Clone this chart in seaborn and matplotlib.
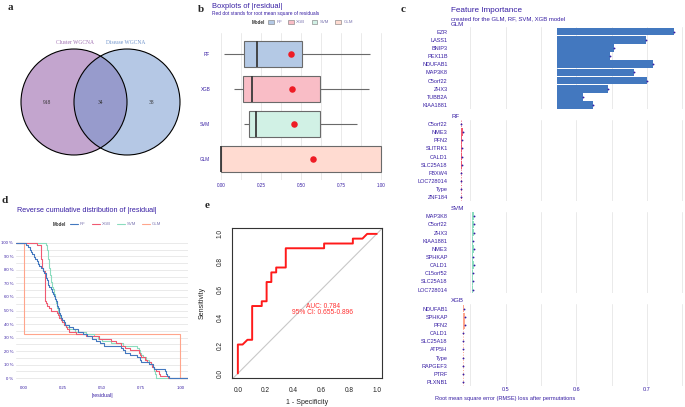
import numpy as np
import pandas as pd
import matplotlib
matplotlib.use("Agg")
import matplotlib.pyplot as plt
from matplotlib.patches import Circle, Patch
from matplotlib.lines import Line2D
from matplotlib.ticker import FixedLocator, FuncFormatter
import seaborn as sns

sns.set_style("white")
plt.rcParams['font.family'] = ['Liberation Sans', 'DejaVu Sans']

W, H = 685, 407
INK = "#371ea3"
GRID = "#e6e6e6"
SERIF = ['Liberation Serif', 'DejaVu Serif']

# ------------------------------------------------------------
# data
# ------------------------------------------------------------
# a) Venn of the two WGCNA gene sets
venn_labels = ["Cluster WGCNA", "Disease WGCNA"]
venn_counts = [918, 34, 38]          # only cluster, both, only disease

# b / d) |residual| per model, n = 58 (read off the reverse ECDF)
models = ["RF", "XGB", "SVM", "GLM"]
res_rf = [0.016, 0.026, 0.037, 0.047, 0.055, 0.064, 0.073, 0.082, 0.090, 0.099,
          0.108, 0.120, 0.131, 0.140, 0.144, 0.148, 0.153, 0.157, 0.163, 0.172,
          0.180, 0.189, 0.195, 0.200, 0.205, 0.210, 0.215, 0.218, 0.222, 0.227,
          0.233, 0.239, 0.246, 0.255, 0.265, 0.288, 0.313, 0.347, 0.380, 0.407,
          0.433, 0.460, 0.486, 0.512, 0.624, 0.635, 0.646, 0.680, 0.721, 0.740,
          0.749, 0.800, 0.826, 0.835, 0.905, 0.910, 0.918, 0.929]
res_xgb = [0.083, 0.107, 0.108, 0.109, 0.110, 0.112, 0.113, 0.114, 0.115, 0.115,
           0.116, 0.123, 0.134, 0.134, 0.135, 0.135, 0.135, 0.136, 0.136, 0.136,
           0.137, 0.137, 0.137, 0.138, 0.138, 0.140, 0.151, 0.162, 0.176, 0.214,
           0.221, 0.228, 0.235, 0.246, 0.257, 0.268, 0.278, 0.291, 0.333, 0.396,
           0.481, 0.558, 0.592, 0.624, 0.649, 0.678, 0.735, 0.742, 0.750, 0.772,
           0.789, 0.812, 0.822, 0.834, 0.848, 0.862, 0.872, 0.922]
res_svm = [0.144, 0.147, 0.150, 0.152, 0.154, 0.156, 0.157, 0.159, 0.160, 0.162,
           0.163, 0.165, 0.168, 0.170, 0.172, 0.175, 0.177, 0.179, 0.182, 0.186,
           0.190, 0.194, 0.198, 0.201, 0.204, 0.207, 0.210, 0.213, 0.217, 0.221,
           0.225, 0.230, 0.236, 0.243, 0.254, 0.269, 0.291, 0.326, 0.400, 0.452,
           0.477, 0.498, 0.560, 0.635, 0.721, 0.735, 0.742, 0.750, 0.763, 0.781,
           0.798, 0.812, 0.822, 0.830, 0.834, 0.839, 0.843, 0.848]
res_glm = [0.0] * 39 + [1.0] * 19    # GLM residuals are either 0 or 1

model_colors = {"RF": "#4378bf", "XGB": "#f05a71", "SVM": "#8bdcbe", "GLM": "#ffa58c"}

# c) permutation feature importance (RMSE loss)
fi_models = ["GLM", "RF", "SVM", "XGB"]
fi_full = [0.572, 0.437, 0.453, 0.440]
glm_vars = ["EZR", "LASS1", "BNIP3", "PEX11B", "NDUFAB1", "MAP3K8", "C5orf22", "ZHX3", "TUBB2A", "KIAA1881"]
glm_loss = [0.738, 0.698, 0.653, 0.648, 0.708, 0.682, 0.700, 0.645, 0.609, 0.624]
rf_vars = ["C5orf22", "NME3", "PFN2", "SLITRK1", "CALD1", "SLC25A18", "FBXW4", "LOC728014", "Type", "ZNF184"]
rf_loss = [0.4370, 0.4390, 0.4382, 0.4382, 0.4382, 0.4376, 0.4374, 0.4374, 0.4374, 0.4374]
svm_vars = ["MAP3K8", "C5orf22", "ZHX3", "KIAA1881", "NME3", "SPHKAP", "CALD1", "C15orf52", "SLC25A18", "LOC728014"]
svm_loss = [0.4555, 0.4550, 0.4550, 0.4540, 0.4545, 0.4540, 0.4550, 0.4540, 0.4540, 0.4540]
xgb_vars = ["NDUFAB1", "SPHKAP", "PFN2", "CALD1", "SLC25A18", "ATP5H", "Type", "RAPGEF3", "PTRF", "PLXNB1"]
xgb_loss = [0.4405, 0.4425, 0.4425, 0.4403, 0.4403, 0.4403, 0.4403, 0.4403, 0.4403, 0.4403]
fi_colors = {"GLM": "#4378bf", "RF": "#f05a71", "SVM": "#8bdcbe", "XGB": "#ffa58c"}

# e) ROC curve
roc_fpr = [0, 0, 0.034, 0.069, 0.103, 0.103, 0.172, 0.172, 0.207, 0.207, 0.241, 0.241,
           0.276, 0.276, 0.345, 0.345, 0.621, 0.621, 0.828, 0.828, 0.897, 0.931, 1.0]
roc_tpr = [0, 0.207, 0.207, 0.241, 0.241, 0.483, 0.483, 0.517, 0.517, 0.655, 0.655, 0.724,
           0.724, 0.759, 0.759, 0.897, 0.897, 0.931, 0.931, 0.966, 0.966, 1.0, 1.0]
roc_auc = 0.784
roc_ci = (0.655, 0.896)


# ------------------------------------------------------------
# helpers (pixel layout)
# ------------------------------------------------------------
fig = plt.figure(figsize=(W / 100, H / 100), dpi=100)


def add_ax(left, top, width, height):
    return fig.add_axes([left / W, 1 - (top + height) / H, width / W, height / H])


def ftext(x, y, s, **kw):
    kw.setdefault("va", "center")
    return fig.text(x / W, 1 - y / H, s, **kw)


def blend(hexcol, a=0.4):
    rgb = np.array(matplotlib.colors.to_rgb(hexcol))
    return tuple(a * rgb + (1 - a))


for letter, (lx, ly) in zip("abcde", [(10, 8), (201, 9), (403, 10), (5, 200), (207, 206)]):
    ftext(lx, ly, letter, family=SERIF, fontweight="bold", fontsize=8, ha="center")

# ------------------------------------------------------------
# a) Venn
# ------------------------------------------------------------
axa = add_ax(0, 0, 200, 195)
axa.set_xlim(0, 200)
axa.set_ylim(195, 0)
axa.axis("off")
axa.add_patch(Circle((74, 102), 53, facecolor="#894d9f", alpha=0.5, lw=0))
axa.add_patch(Circle((127, 102), 53, facecolor="#6c93cc", alpha=0.5, lw=0))
axa.add_patch(Circle((74, 102), 53, fill=False, edgecolor="black", lw=0.8))
axa.add_patch(Circle((127, 102), 53, fill=False, edgecolor="black", lw=0.8))
axa.text(75, 42, venn_labels[0], family=SERIF, fontsize=4, color="#a070b2", ha="center", va="center")
axa.text(126, 42, venn_labels[1], family=SERIF, fontsize=4, color="#6f93cb", ha="center", va="center")
for xx, cnt in zip([47, 100, 152], venn_counts):
    axa.text(xx, 102, str(cnt), family=SERIF, fontsize=4, color="#333333", ha="center", va="center")

# ------------------------------------------------------------
# b) boxplots of |residual|
# ------------------------------------------------------------
res_df = pd.DataFrame({
    "Model": np.repeat(models, len(res_rf)),
    "residual": np.concatenate([res_rf, res_xgb, res_svm, res_glm]),
})
fill_pal = {m: blend(c) for m, c in model_colors.items()}

axb = add_ax(213, 33, 176, 147)
sns.boxplot(data=res_df, x="residual", y="Model", hue="Model", order=models, hue_order=models,
            palette=fill_pal, saturation=1, width=0.75, linecolor="#6a6a6a", linewidth=0.8,
            fliersize=0, legend=False, showcaps=False,
            medianprops={"linewidth": 1.3, "color": "#3a3a3a"}, ax=axb)
rmse = [np.sqrt(np.mean(np.square(g["residual"]))) for _, g in res_df.groupby("Model", sort=False)]
axb.scatter(rmse, range(len(models)), s=22, color="#ee1c25", zorder=5, lw=0)
axb.set_xlim(-0.05, 1.05)
axb.set_ylim(3.6, -0.6)
axb.xaxis.set_major_locator(FixedLocator([0, 0.25, 0.5, 0.75, 1.0]))
axb.xaxis.set_minor_locator(FixedLocator([0.125, 0.375, 0.625, 0.875]))
axb.xaxis.set_major_formatter(FuncFormatter(lambda v, _: f"{v:.2f}"))
axb.grid(axis="x", which="both", color=GRID, lw=0.6)
axb.set_axisbelow(True)
axb.set_xlabel("")
axb.set_ylabel("")
axb.tick_params(length=0, labelsize=3.3, colors=INK, pad=2)
axb.tick_params(axis="x", which="minor", length=0)
for s in axb.spines.values():
    s.set_visible(False)

ftext(212, 6, "Boxplots of |residual|", fontsize=5.4, color=INK, ha="left")
ftext(212, 13.5, "Red dot stands for root mean square of residuals", fontsize=3.5, color=INK, ha="left")
ftext(252, 22, "Model", fontsize=3.3, fontweight="bold", color="#333333", ha="left")
box_handles = [Patch(facecolor=fill_pal[m], edgecolor="#777777", lw=0.4) for m in models]
fig.legend(box_handles, models, loc="center left", bbox_to_anchor=(266 / W, 1 - 22 / H),
           ncol=4, frameon=False, fontsize=3.2, handlelength=1.3, handleheight=1.3,
           columnspacing=1.4, handletextpad=0.5, labelcolor="#7a74b0", borderpad=0)

# ------------------------------------------------------------
# c) feature importance
# ------------------------------------------------------------
fi_sets = {"GLM": (glm_vars, glm_loss), "RF": (rf_vars, rf_loss),
           "SVM": (svm_vars, svm_loss), "XGB": (xgb_vars, xgb_loss)}
lo = min(fi_full)
hi = max(max(v[1]) for v in fi_sets.values())
pad = 0.05 * (hi - lo)
c_tops = [27.2, 119.5, 211.8, 304.2]
c_strip_y = [24, 116.3, 208.7, 300.7]

for i, name in enumerate(fi_models):
    vars_, loss = fi_sets[name]
    full = fi_full[i]
    ax = add_ax(450.5, c_tops[i], 234, 81.5)
    yy = np.arange(len(vars_))
    ax.barh(yy, np.array(loss) - full, left=full, height=0.93, color=fi_colors[name], lw=0, zorder=2)
    ax.axvline(full, color=fi_colors[name], ls=":", lw=0.7, zorder=2)
    ax.scatter(loss, yy, s=1.8, color=INK, lw=0, zorder=3)
    ax.set_xlim(lo - pad, hi + pad)
    ax.set_ylim(len(vars_) - 0.55, -0.55)
    ax.set_yticks(yy)
    ax.set_yticklabels(vars_)
    ax.xaxis.set_major_locator(FixedLocator([0.5, 0.6, 0.7]))
    ax.xaxis.set_minor_locator(FixedLocator([0.45, 0.55, 0.65, 0.75]))
    ax.grid(axis="x", which="both", color=GRID, lw=0.6)
    ax.set_axisbelow(True)
    ax.tick_params(length=0, labelsize=4, colors=INK, pad=2)
    ax.tick_params(axis="x", which="minor", length=0)
    if i < len(fi_models) - 1:
        ax.tick_params(axis="x", labelbottom=False)
    else:
        ax.tick_params(axis="x", pad=0.6)
    for s in ax.spines.values():
        s.set_visible(False)
    ftext(451, c_strip_y[i], name, fontsize=4.4, color=INK, ha="left")

ftext(451, 11, "Feature Importance", fontsize=5.9, color=INK, ha="left")
ftext(451, 18.3, "created for the GLM, RF, SVM, XGB model", fontsize=4.3, color=INK, ha="left")
ftext(505, 398.7, "Root mean square error (RMSE) loss after permutations", fontsize=4.1, color=INK, ha="center")

# ------------------------------------------------------------
# d) reverse cumulative distribution
# ------------------------------------------------------------
axd = add_ax(16, 236, 172, 149)
sns.ecdfplot(data=res_df, x="residual", hue="Model", hue_order=models, palette=model_colors,
             complementary=True, legend=False, linewidth=0.8, ax=axd)
xl = (-0.05, 1.05)
for m in models[::-1]:
    vals = res_df.loc[res_df["Model"] == m, "residual"]
    axd.plot([xl[0], vals.min()], [1, 1], color=model_colors[m], lw=0.8)
    axd.plot([vals.max(), xl[1]], [0, 0], color=model_colors[m], lw=0.8)
axd.set_xlim(*xl)
axd.set_ylim(-0.05, 1.05)
axd.yaxis.set_major_locator(FixedLocator(np.round(np.arange(0, 1.01, 0.1), 2)))
axd.yaxis.set_minor_locator(FixedLocator(np.round(np.arange(0.05, 1.0, 0.1), 2)))
axd.yaxis.set_major_formatter(FuncFormatter(lambda v, _: f"{v * 100:.0f} %"))
axd.xaxis.set_major_locator(FixedLocator([0, 0.25, 0.5, 0.75, 1.0]))
axd.xaxis.set_major_formatter(FuncFormatter(lambda v, _: f"{v:.2f}"))
axd.grid(axis="y", which="both", color=GRID, lw=0.6)
axd.set_axisbelow(True)
axd.set_xlabel("")
axd.set_ylabel("")
axd.tick_params(length=0, labelsize=3.1, colors=INK, pad=2)
axd.tick_params(axis="x", pad=1)
axd.tick_params(axis="y", which="minor", length=0)
for s in axd.spines.values():
    s.set_visible(False)

ftext(17, 211, "Reverse cumulative distribution of |residual|", fontsize=5.2, color=INK, ha="left")
ftext(53, 224.3, "Model", fontsize=3.3, fontweight="bold", color="#333333", ha="left")
line_handles = [Line2D([0], [0], color=model_colors[m], lw=0.8) for m in models]
fig.legend(line_handles, models, loc="center left", bbox_to_anchor=(68 / W, 1 - 224.3 / H),
           ncol=4, frameon=False, fontsize=3.1, handlelength=1.8, columnspacing=1.4,
           handletextpad=0.5, labelcolor="#7a74b0", borderpad=0)
ftext(102, 396, "|residual|", fontsize=3.8, color=INK, ha="center")

# ------------------------------------------------------------
# e) ROC
# ------------------------------------------------------------
axe = add_ax(232.3, 228.3, 150, 150)
axe.axline((0, 0), (1, 1), color="#c8c8c8", lw=0.8)
axe.plot(roc_fpr, roc_tpr, color="#ff1a1a", lw=1.4)
axe.set_xlim(-0.04, 1.04)
axe.set_ylim(-0.035, 1.04)
axe.set_xticks(np.round(np.arange(0, 1.01, 0.2), 1))
axe.set_yticks(np.round(np.arange(0, 1.01, 0.2), 1))
axe.xaxis.set_major_formatter(FuncFormatter(lambda v, _: f"{v:.1f}"))
axe.yaxis.set_major_formatter(FuncFormatter(lambda v, _: f"{v:.1f}"))
axe.tick_params(direction="out", length=2.9, width=0.6, labelsize=4.7, colors="#222222", pad=3.4)
plt.setp(axe.get_yticklabels(), rotation=90, va="center")
for s in axe.spines.values():
    s.set_color("#333333")
    s.set_linewidth(0.8)
axe.text(0.61, 0.482, f"AUC: {roc_auc:.3f}", color="#ff3030", fontsize=4.8, ha="center", va="center")
axe.text(0.61, 0.434, f"95% CI: {roc_ci[0]:.3f}-{roc_ci[1]:.3f}", color="#ff3030",
         fontsize=4.8, ha="center", va="center")
ftext(307, 402.3, "1 - Specificity", fontsize=5, color="#222222", ha="center")
ftext(202, 303, "Sensitivity", fontsize=5, color="#222222", ha="center", rotation=90)

fig.savefig("out.png", dpi=100)
